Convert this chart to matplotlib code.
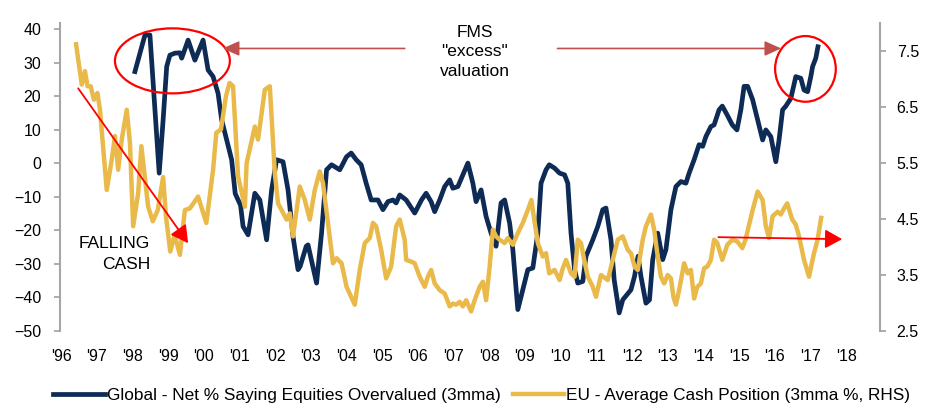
import matplotlib
matplotlib.use("Agg")
from matplotlib import pyplot as plt
from matplotlib.patches import Ellipse

plt.rcParams['font.family'] = ['Liberation Sans', 'DejaVu Sans']

# Global - Net % saying equities overvalued (3mma), left axis
glob_x = [1998.07, 1998.35, 1998.49, 1998.75, 1998.86, 1998.96, 1999.05, 1999.19,
          1999.33, 1999.38, 1999.56, 1999.75, 1999.98, 2000.12, 2000.26, 2000.40,
          2000.50, 2000.64, 2000.78, 2000.88, 2001.03, 2001.10, 2001.24, 2001.43,
          2001.57, 2001.76, 2001.90, 2002.04, 2002.22, 2002.36, 2002.50, 2002.64,
          2002.70, 2002.87, 2002.92, 2003.16, 2003.30, 2003.44, 2003.58, 2003.81,
          2004.00, 2004.13, 2004.27, 2004.41, 2004.55, 2004.69, 2004.88, 2005.02,
          2005.16, 2005.30, 2005.39, 2005.49, 2005.67, 2005.91, 2006.10, 2006.23,
          2006.37, 2006.47, 2006.61, 2006.75, 2006.89, 2006.98, 2007.12, 2007.26,
          2007.40, 2007.54, 2007.63, 2007.77, 2007.91, 2008.05, 2008.19, 2008.33,
          2008.43, 2008.57, 2008.66, 2008.80, 2008.94, 2009.08, 2009.22, 2009.36,
          2009.45, 2009.59, 2009.68, 2009.83, 2009.97, 2010.11, 2010.20, 2010.29,
          2010.39, 2010.48, 2010.62, 2010.71, 2010.90, 2011.04, 2011.18, 2011.27,
          2011.41, 2011.50, 2011.64, 2011.74, 2011.97, 2012.07, 2012.17, 2012.25,
          2012.39, 2012.49, 2012.58, 2012.72, 2012.86, 2012.95, 2013.09, 2013.23,
          2013.37, 2013.51, 2013.60, 2013.74, 2013.88, 2013.98, 2014.07, 2014.21,
          2014.30, 2014.44, 2014.53, 2014.67, 2014.81, 2014.94, 2015.05, 2015.14,
          2015.24, 2015.38, 2015.52, 2015.66, 2015.75, 2015.89, 2016.03, 2016.12,
          2016.22, 2016.31, 2016.45, 2016.59, 2016.73, 2016.82, 2016.92, 2017.01,
          2017.06, 2017.15, 2017.21]
glob_y = [27.4, 38.3, 38.3, -2.9, 13.0, 28.9, 32.3, 32.9,
          33.0, 31.4, 36.8, 30.8, 36.8, 27.9, 25.9, 20.9,
          13.0, 7.0, 1.1, -9.0, -12.5, -18.8, -21.3, -8.9,
          -10.9, -22.8, -7.9, 1.1, 0.5, -7.9, -21.8, -31.7,
          -30.7, -24.7, -24.3, -35.7, -20.7, -1.9, -0.4, -1.9,
          2.0, 3.1, 1.1, -0.4, -5.9, -10.9, -10.9, -13.8,
          -11.4, -10.9, -11.8, -9.4, -10.9, -14.8, -10.9, -8.9,
          -11.4, -14.4, -10.9, -6.9, -4.9, -7.4, -6.9, -3.4,
          0.1, -5.9, -11.4, -7.9, -15.8, -20.8, -24.7, -11.8,
          -10.9, -17.8, -25.7, -43.6, -37.7, -31.7, -31.2, -20.8,
          -5.9, -1.9, -0.4, -1.4, -2.9, -3.4, -5.9, -20.8,
          -31.7, -35.7, -35.2, -27.7, -22.8, -18.8, -13.8, -13.3,
          -22.8, -34.7, -44.6, -40.7, -37.7, -33.7, -27.7, -33.7,
          -41.7, -40.7, -28.7, -20.8, -28.7, -25.7, -13.8, -6.9,
          -5.4, -5.9, -2.9, 1.1, 5.6, 5.1, 8.0, 11.0,
          11.5, 16.0, 17.1, 14.4, 11.5, 10.0, 16.0, 23.0,
          23.0, 19.0, 13.0, 7.0, 10.0, 8.0, 0.5, 7.0,
          16.0, 17.1, 19.4, 25.9, 25.4, 21.9, 21.4, 25.9,
          28.9, 31.4, 34.8]

# EU - Average cash position (3mma %), right axis
eu_x = [1996.42, 1996.58, 1996.67, 1996.74, 1996.83, 1996.92, 1997.02, 1997.09,
        1997.28, 1997.42, 1997.51, 1997.60, 1997.70, 1997.84, 1997.93, 1998.02,
        1998.16, 1998.25, 1998.44, 1998.57, 1998.71, 1998.86, 1998.94, 1999.06,
        1999.18, 1999.33, 1999.47, 1999.61, 1999.84, 2000.07, 2000.26, 2000.35,
        2000.48, 2000.62, 2000.72, 2000.82, 2000.96, 2001.15, 2001.20, 2001.43,
        2001.52, 2001.71, 2001.85, 2001.99, 2002.08, 2002.32, 2002.41, 2002.50,
        2002.69, 2002.83, 2002.97, 2003.11, 2003.25, 2003.34, 2003.48, 2003.62,
        2003.72, 2003.86, 2004.00, 2004.23, 2004.37, 2004.51, 2004.65, 2004.74,
        2004.83, 2004.97, 2005.11, 2005.25, 2005.39, 2005.49, 2005.63, 2005.67,
        2005.81, 2005.91, 2006.05, 2006.19, 2006.28, 2006.37, 2006.47, 2006.61,
        2006.75, 2006.89, 2006.98, 2007.07, 2007.17, 2007.26, 2007.35, 2007.49,
        2007.59, 2007.73, 2007.82, 2007.91, 2008.01, 2008.10, 2008.19, 2008.29,
        2008.43, 2008.52, 2008.66, 2008.80, 2008.94, 2009.08, 2009.18, 2009.22,
        2009.36, 2009.50, 2009.59, 2009.68, 2009.83, 2009.97, 2010.06, 2010.15,
        2010.29, 2010.39, 2010.48, 2010.57, 2010.66, 2010.76, 2010.90, 2010.99,
        2011.13, 2011.32, 2011.46, 2011.60, 2011.74, 2011.88, 2011.97, 2012.07,
        2012.16, 2012.30, 2012.39, 2012.53, 2012.62, 2012.72, 2012.81, 2012.90,
        2013.00, 2013.09, 2013.16, 2013.23, 2013.32, 2013.46, 2013.56, 2013.65,
        2013.74, 2013.83, 2013.93, 2014.02, 2014.11, 2014.21, 2014.30, 2014.39,
        2014.53, 2014.67, 2014.81, 2014.95, 2015.09, 2015.18, 2015.27, 2015.38,
        2015.52, 2015.66, 2015.75, 2015.84, 2015.94, 2016.08, 2016.17, 2016.26,
        2016.35, 2016.49, 2016.59, 2016.68, 2016.82, 2016.96, 2017.10, 2017.20,
        2017.30]
eu_y = [7.62, 6.90, 7.14, 6.87, 6.87, 6.63, 6.75, 6.45,
        5.02, 5.56, 5.98, 5.38, 5.92, 6.45, 5.86, 4.37,
        4.96, 5.80, 4.72, 4.46, 4.66, 5.25, 4.54, 3.92,
        4.22, 3.86, 4.66, 4.69, 4.90, 4.43, 5.38, 6.04,
        6.10, 6.69, 6.93, 6.87, 5.26, 4.72, 5.50, 6.15,
        5.92, 6.81, 6.87, 5.32, 4.78, 4.49, 4.60, 4.19,
        5.08, 4.84, 4.49, 5.02, 5.35, 5.14, 4.43, 3.71,
        3.80, 3.71, 3.29, 2.97, 3.59, 4.07, 4.16, 4.43,
        4.37, 3.95, 3.44, 3.65, 4.37, 4.49, 4.13, 3.77,
        3.74, 3.71, 3.47, 3.29, 3.47, 3.59, 3.35, 3.23,
        3.17, 2.94, 2.99, 2.97, 3.02, 2.94, 3.05, 2.85,
        3.05, 3.29, 3.38, 3.05, 3.65, 4.31, 4.19, 4.13,
        4.07, 4.16, 4.04, 4.25, 4.43, 4.66, 4.84, 4.66,
        4.07, 3.83, 3.89, 3.53, 3.59, 3.41, 3.62, 3.77,
        3.53, 3.47, 4.13, 4.07, 3.77, 3.47, 3.29, 3.11,
        3.50, 3.41, 3.77, 4.13, 4.19, 3.95, 3.89, 3.65,
        3.59, 4.13, 4.37, 4.58, 4.31, 3.83, 3.47, 3.35,
        3.50, 3.44, 3.11, 2.97, 3.23, 3.71, 3.53, 3.59,
        3.08, 3.29, 3.35, 3.62, 3.65, 3.77, 4.13, 4.07,
        3.77, 4.04, 4.13, 4.10, 3.98, 4.13, 4.37, 4.66,
        4.99, 4.84, 4.37, 4.16, 4.55, 4.63, 4.58, 4.69,
        4.78, 4.49, 4.40, 4.19, 3.77, 3.47, 3.89, 4.13,
        4.52]

years = list(range(1996, 2019))
year_labels = ["'%02d" % (y % 100) for y in years]
left_ticks = list(range(-50, 41, 10))
right_ticks = [2.5, 3.5, 4.5, 5.5, 6.5, 7.5]

navy = '#0d2b54'
gold = '#e9b949'
grey = '#a6a6a6'

fig = plt.figure(figsize=(9.39, 4.18), dpi=100)
ax = fig.add_axes([0.0639, 0.2081, 0.8733, 0.7369])
ax2 = ax.twinx()

l1, = ax.plot(glob_x, glob_y, color=navy, lw=3.4, solid_joinstyle='round',
              label='Global - Net % Saying Equities Overvalued (3mma)')
l2, = ax2.plot(eu_x, eu_y, color=gold, lw=3.2, solid_joinstyle='round',
               label='EU - Average Cash Position (3mma %, RHS)')

ax.set_xlim(1995.97, 2018.95)
ax.set_ylim(-50, 41.9)
ax2.set_ylim(2.5, 8.0)
ax.set_xticks(years)
ax.set_xticklabels(year_labels)
ax.set_yticks(left_ticks)
ax2.set_yticks(right_ticks)

for s in ['top', 'right', 'bottom']:
    ax.spines[s].set_visible(False)
for s in ['top', 'left', 'bottom']:
    ax2.spines[s].set_visible(False)
ax.spines['left'].set_color(grey)
ax.spines['left'].set_linewidth(1.5)
ax2.spines['right'].set_color(grey)
ax2.spines['right'].set_linewidth(1.5)

ax.tick_params(axis='x', length=0, pad=13, labelsize=11.5)
ax.tick_params(axis='y', length=4.5, width=1.3, color=grey, pad=9, labelsize=11.5)
ax2.tick_params(axis='y', length=4, width=1.3, color=grey, pad=8, labelsize=11.5)

# annotations (in left axis data coords, drawn above both lines)
tr = ax.transData
ax2.add_patch(Ellipse((1999.12, 30.6), 3.22, 19.4, transform=tr, fill=False,
                      edgecolor='#ff0000', lw=1.6, clip_on=False))
ax2.add_patch(Ellipse((2016.86, 28.2), 1.70, 19.6, transform=tr, fill=False,
                      edgecolor='#ff0000', lw=1.6, clip_on=False))

fms_style = dict(arrowstyle='-|>,head_length=0.4,head_width=0.18',
                 color='#c0504d', lw=1.2, shrinkA=0, shrinkB=0, mutation_scale=25)
ax2.annotate('', xy=(2000.53, 34.3), xycoords=tr, xytext=(2005.63, 34.3),
             textcoords=tr, arrowprops=fms_style)
ax2.annotate('', xy=(2016.18, 34.3), xycoords=tr, xytext=(2009.91, 34.3),
             textcoords=tr, arrowprops=fms_style)
ax2.text(2007.59, 33.3, 'FMS\n"excess"\nvaluation', transform=tr, ha='center',
         va='center', fontsize=12.5, linespacing=1.35)

red_style = dict(arrowstyle='-|>,head_length=0.4,head_width=0.22',
                 color='#ff0000', lw=1.3, shrinkA=0, shrinkB=0, mutation_scale=26)
ax2.annotate('', xy=(1999.56, -23.8), xycoords=tr, xytext=(1996.48, 22.4),
             textcoords=tr, arrowprops=red_style)
ax2.annotate('', xy=(2017.89, -22.6), xycoords=tr, xytext=(2014.42, -22.0),
             textcoords=tr, arrowprops=red_style)
ax2.text(1998.49, -27.0, 'FALLING\nCASH', transform=tr, ha='right', va='center',
         fontsize=12.5, linespacing=1.45)

fig.legend(handles=[l1, l2], loc='center', bbox_to_anchor=(0.513, 0.055), ncol=2,
           frameon=False, fontsize=12.4, handlelength=3.0, handletextpad=0.1,
           columnspacing=0.7)

fig.savefig('out.png', dpi=100)
